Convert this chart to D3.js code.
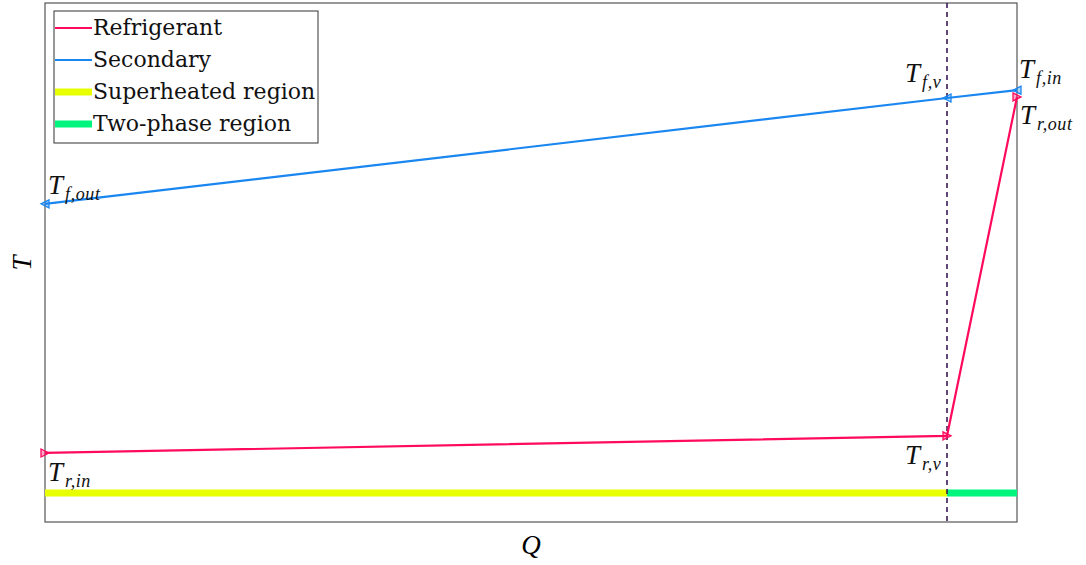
<!DOCTYPE html>
<html>
<head>
<meta charset="utf-8">
<script src="https://cdn.jsdelivr.net/npm/d3@7"></script>
<style>
  body { margin: 0; background: #fff; }
  svg { display: block; }
  text { font-family: "DejaVu Serif", "Liberation Serif", serif; }
  .math { font-family: "Liberation Serif", "DejaVu Serif", serif; font-style: italic; }
</style>
</head>
<body>
<svg id="chart" width="1086" height="565"></svg>
<script>
// Heat-exchanger T–Q diagram (normalised units)
const qPoints = [0, 0.928, 1];                 // Q at inlet, vapour point, outlet
const refrigerantT = [0.133, 0.166, 0.819];    // T_r,in  T_r,v  T_r,out
const secondaryT = [0.613, 0.817, 0.832];      // T_f,out T_f,v  T_f,in
const regionT = 0.056;
const legendNames = ["Refrigerant", "Secondary", "Superheated region", "Two-phase region"];

const colors = {
  refrigerant: "#ff0a5e",
  secondary: "#1a86f0",
  superheated: "#e8ff00",
  twoPhase: "#00f57f",
  divider: "#3b1a55",
  frame: "#555555"
};

const svg = d3.select("#chart");
const m = { left: 45, right: 1017, top: 3, bottom: 522 };

const x = d3.scaleLinear().domain([0, 1]).range([m.left, m.right]);
const y = d3.scaleLinear().domain([0, 1]).range([m.bottom, m.top]);

// frame
svg.append("rect")
  .attr("x", m.left).attr("y", m.top)
  .attr("width", m.right - m.left).attr("height", m.bottom - m.top)
  .attr("fill", "none").attr("stroke", colors.frame).attr("stroke-width", 1.2);

// region bars along the bottom
const regions = [
  { q0: qPoints[0], q1: qPoints[1], color: colors.superheated },
  { q0: qPoints[1], q1: qPoints[2], color: colors.twoPhase }
];
svg.selectAll("line.region").data(regions).join("line")
  .attr("class", "region")
  .attr("x1", d => x(d.q0)).attr("x2", d => x(d.q1))
  .attr("y1", y(regionT)).attr("y2", y(regionT))
  .attr("stroke", d => d.color).attr("stroke-width", 7);

// vapour point divider
svg.append("line")
  .attr("x1", x(qPoints[1])).attr("x2", x(qPoints[1]))
  .attr("y1", m.top).attr("y2", m.bottom)
  .attr("stroke", colors.divider).attr("stroke-width", 1.6)
  .attr("stroke-dasharray", "5,4");

const line = d3.line().x(d => x(d[0])).y(d => y(d[1]));
const refPts = qPoints.map((q, i) => [q, refrigerantT[i]]);
const secPts = qPoints.map((q, i) => [q, secondaryT[i]]);

svg.append("path").attr("d", line(refPts))
  .attr("fill", "none").attr("stroke", colors.refrigerant).attr("stroke-width", 2.2);
svg.append("path").attr("d", line(secPts))
  .attr("fill", "none").attr("stroke", colors.secondary).attr("stroke-width", 2.2);

// triangle markers: refrigerant points right, secondary points left
function tri(dir) {
  const s = 4;
  return dir > 0
    ? `M${-s},${-s} L${s},0 L${-s},${s} Z`
    : `M${s},${-s} L${-s},0 L${s},${s} Z`;
}
svg.selectAll("path.refm").data(refPts).join("path")
  .attr("class", "refm")
  .attr("transform", d => `translate(${x(d[0])},${y(d[1])})`)
  .attr("d", tri(1))
  .attr("fill", colors.refrigerant).attr("fill-opacity", 0.35)
  .attr("stroke", colors.refrigerant).attr("stroke-width", 1.3);
svg.selectAll("path.secm").data(secPts).join("path")
  .attr("class", "secm")
  .attr("transform", d => `translate(${x(d[0])},${y(d[1])})`)
  .attr("d", tri(-1))
  .attr("fill", colors.secondary).attr("fill-opacity", 0.35)
  .attr("stroke", colors.secondary).attr("stroke-width", 1.3);

// point labels  T_{a,b}
function mathLabel(px, py, sub) {
  const t = svg.append("text").attr("class", "math")
    .attr("x", px).attr("y", py)
    .attr("font-size", 27).attr("fill", "#111");
  t.append("tspan").text("T");
  t.append("tspan").attr("font-size", 18).attr("dy", 6).attr("dx", 2)
    .attr("letter-spacing", 0.6).text(sub);
}
mathLabel(x(qPoints[0]) + 3, y(secondaryT[0]) - 10, "f,out");
mathLabel(x(qPoints[1]) - 42, y(secondaryT[1]) - 16, "f,v");
mathLabel(x(qPoints[2]) + 2, y(secondaryT[2]) - 12, "f,in");
mathLabel(x(qPoints[2]) + 3, y(refrigerantT[2]) + 27, "r,out");
mathLabel(x(qPoints[1]) - 42, y(refrigerantT[1]) + 28, "r,v");
mathLabel(x(qPoints[0]) + 3, y(refrigerantT[0]) + 28, "r,in");

// axis titles
svg.append("text").attr("class", "math").attr("x", 531).attr("y", 554).attr("text-anchor", "middle")
  .attr("font-size", 27).text("Q");
svg.append("text").attr("class", "math").attr("transform", "translate(31,263) rotate(-90)")
  .attr("text-anchor", "middle")
  .attr("font-size", 27).text("T");

// legend
const lg = svg.append("g").attr("transform", "translate(54,11)");
lg.append("rect").attr("width", 264).attr("height", 132)
  .attr("fill", "#fff").attr("stroke", "#333").attr("stroke-width", 1);
const legendColors = [colors.refrigerant, colors.secondary, colors.superheated, colors.twoPhase];
const legendWidths = [2, 2, 7, 7];
const rows = lg.selectAll("g.row").data(legendNames).join("g")
  .attr("class", "row")
  .attr("transform", (d, i) => `translate(0,${17 + i * 32})`);
rows.append("line").attr("x1", 1).attr("x2", 38).attr("y1", 0).attr("y2", 0)
  .attr("stroke", (d, i) => legendColors[i])
  .attr("stroke-width", (d, i) => legendWidths[i]);
rows.append("text").attr("x", 39).attr("y", 7)
  .attr("font-size", 22).attr("fill", "#111").text(d => d);
</script>
</body>
</html>
